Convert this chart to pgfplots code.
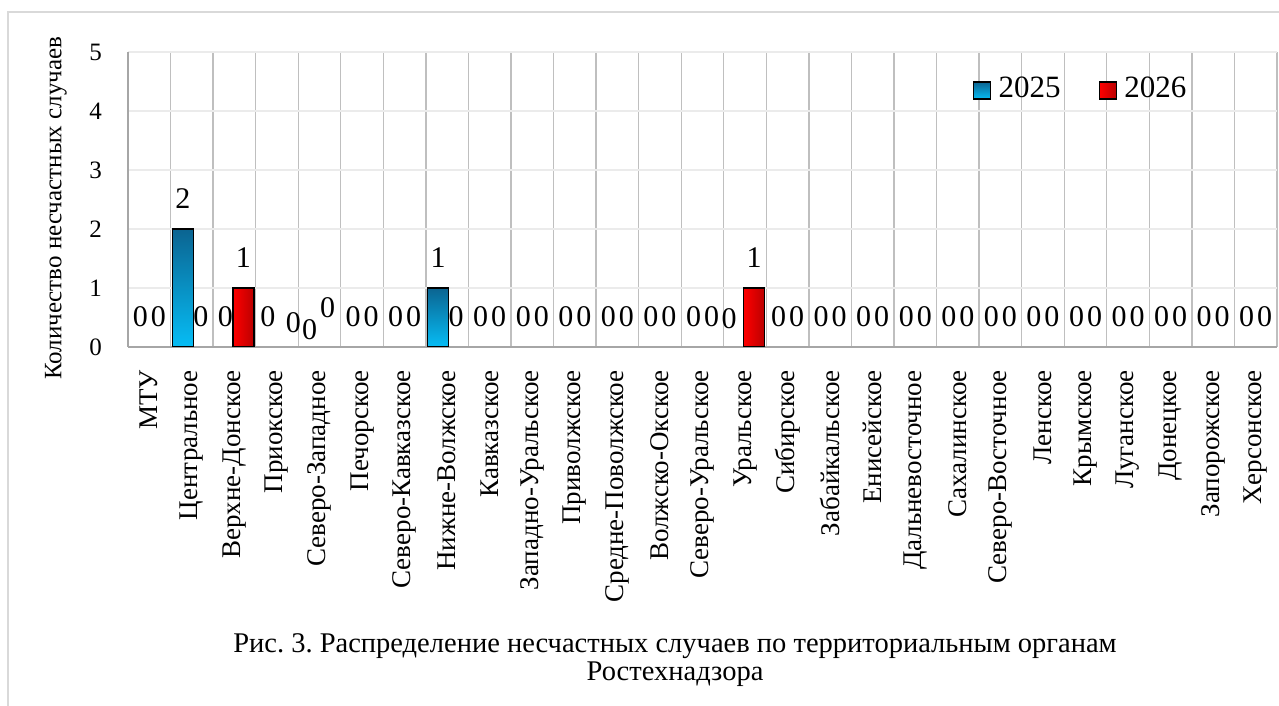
\documentclass[border=0pt]{standalone}
\usepackage{fontspec}
\setmainfont{Liberation Serif}
\usepackage{pgfplots}
\pgfplotsset{compat=1.18}
\usepackage{pgfplotstable}
\frenchspacing

\definecolor{gridv}{HTML}{BFBFBF}
\definecolor{gridh}{HTML}{EBEBEB}
\definecolor{axisgray}{HTML}{A6A6A6}
\definecolor{framegray}{HTML}{D9D9D9}
\definecolor{bluetop}{HTML}{0B6491}
\definecolor{bluebot}{HTML}{06BDF5}
\definecolor{redl}{HTML}{FF0000}
\definecolor{redr}{HTML}{BA0000}

% x: category index, y25/y26: values, dx/dy: label nudges (pt)
\pgfplotstableread{
x  y25 y26 dxa dya dxb  dyb
0  0   0   0   0    0    0
1  2   0   0   0    0    0
2  0   1   0   0    0    0
3  0   0   0   0    7.5 -5.5
4  0   0  -1  -12.5 -1    9.5
5  0   0   0   0    0    0
6  0   0   0   0    0    0
7  1   0   0   0    0    0
8  0   0   0   0    0    0
9  0   0   0   0    0    0
10 0   0   0   0    0    0
11 0   0   0   0    0    0
12 0   0   0   0    0    0
13 0   0   0   0    0    0
14 0   1  -7  -1.5  0    0
15 0   0   0   0    0    0
16 0   0   0   0    0    0
17 0   0   0   0    0    0
18 0   0   0   0    0    0
19 0   0   0   0    0    0
20 0   0   0   0    0    0
21 0   0   0   0    0    0
22 0   0   0   0    0    0
23 0   0   0   0    0    0
24 0   0   0   0    0    0
25 0   0   0   0    0    0
26 0   0   0   0    0    0
}\data

\pgfplotsset{
  bar25/.style={ybar, bar width=21pt, bar shift=-9pt, draw=black, line width=1.5pt,
    top color=bluetop, bottom color=bluebot, restrict x to domain=#1:#1,
    legend image code/.code={\draw[draw=black, line width=1.5pt, top color=bluetop, bottom color=bluebot] (0pt,-11pt) rectangle (17pt,6pt); \path[draw=none] (23pt,0pt);}},
  bar26/.style={ybar, bar width=21pt, bar shift=9pt, draw=black, line width=1.5pt,
    left color=redl, right color=redr, restrict x to domain=#1:#1,
    legend image code/.code={\draw[draw=black, line width=1.5pt, left color=redl, right color=redr] (0pt,-11pt) rectangle (17pt,6pt); \path[draw=none] (23pt,0pt);}},
}

\begin{document}
\begin{tikzpicture}
\useasboundingbox (0pt,0pt) rectangle (1279pt,706pt);
\draw[framegray, line width=1.7pt] (8pt,0pt) -- (8pt,694pt) -- (1290pt,694pt);

\begin{axis}[
  at={(128pt,359pt)}, anchor=south west,
  scale only axis, width=1149pt, height=295pt,
  xmin=-0.5, xmax=26.5, ymin=0, ymax=5,
  xtick={0,...,26},
  xticklabels={МТУ,Центральное,Верхне-Донское,Приокское,Северо-Западное,Печорское,Северо-Кавказское,Нижне-Волжское,Кавказское,Западно-Уральское,Приволжское,Средне-Поволжское,Волжско-Окское,Северо-Уральское,Уральское,Сибирское,Забайкальское,Енисейское,Дальневосточное,Сахалинское,Северо-Восточное,Ленское,Крымское,Луганское,Донецкое,Запорожское,Херсонское},
  minor xtick={-0.5,0.5,...,26.5},
  ytick={0,...,5},
  major tick length=0pt, minor tick length=0pt,
  ymajorgrids, xminorgrids,
  major grid style={gridh, line width=1.5pt},
  minor grid style={gridv, line width=1.3pt},
  axis x line*=bottom, axis y line*=left,
  axis line style={axisgray, line width=1.5pt, -},
  /pgf/number format/assume math mode=true,
  xticklabel style={font=\fontsize{27}{27}\selectfont, rotate=90, anchor=east, inner sep=0pt},
  xticklabel shift=23pt,
  yticklabel style={font=\fontsize{25}{25}\selectfont, anchor=east, inner sep=0pt},
  yticklabel shift=26pt,
  ylabel={Количество несчастных случаев},
  every axis y label/.style={at={(axis description cs:-0.0627,0.47)}, rotate=90, anchor=center, font=\fontsize{25}{25}\selectfont},
  legend columns=2,
  legend style={at={(rel axis cs:0.829,0.878)}, anchor=center, draw=none, fill=none,
    font=\fontsize{31}{31}\selectfont,
    /tikz/every even column/.append style={column sep=36pt}},
]
% shaded bars, one plot per non-zero bar so each gets its own gradient
\addplot[bar25=1] table[x=x, y=y25] {\data};
\addlegendentry{2025}
\addplot[bar26=2] table[x=x, y=y26] {\data};
\addlegendentry{2026}
\addplot[bar25=7, forget plot] table[x=x, y=y25] {\data};
\addplot[bar26=14, forget plot] table[x=x, y=y26] {\data};

% value labels
\addplot[ybar, bar width=21pt, bar shift=-9pt, draw=none, fill=none, forget plot,
  visualization depends on={\thisrow{dxa} \as \dxa},
  visualization depends on={\thisrow{dya} \as \dya},
  nodes near coords,
  every node near coord/.append style={font=\fontsize{30}{30}\selectfont, inner sep=0pt, anchor=south, xshift=-9pt, yshift=20pt, xshift=\dxa pt, yshift=\dya pt}]
  table[x=x, y=y25] {\data};
\addplot[ybar, bar width=21pt, bar shift=9pt, draw=none, fill=none, forget plot,
  visualization depends on={\thisrow{dxb} \as \dxb},
  visualization depends on={\thisrow{dyb} \as \dyb},
  nodes near coords,
  every node near coord/.append style={font=\fontsize{30}{30}\selectfont, inner sep=0pt, anchor=south, xshift=9pt, yshift=20pt, xshift=\dxb pt, yshift=\dyb pt}]
  table[x=x, y=y26] {\data};
\end{axis}

\node[font=\fontsize{28.5}{28.5}\selectfont, anchor=base, inner sep=0pt] at (675pt,53pt) {Рис. 3. Распределение несчастных случаев по территориальным органам};
\node[font=\fontsize{28.5}{28.5}\selectfont, anchor=base, inner sep=0pt] at (675pt,25pt) {Ростехнадзора};
\end{tikzpicture}
\end{document}
